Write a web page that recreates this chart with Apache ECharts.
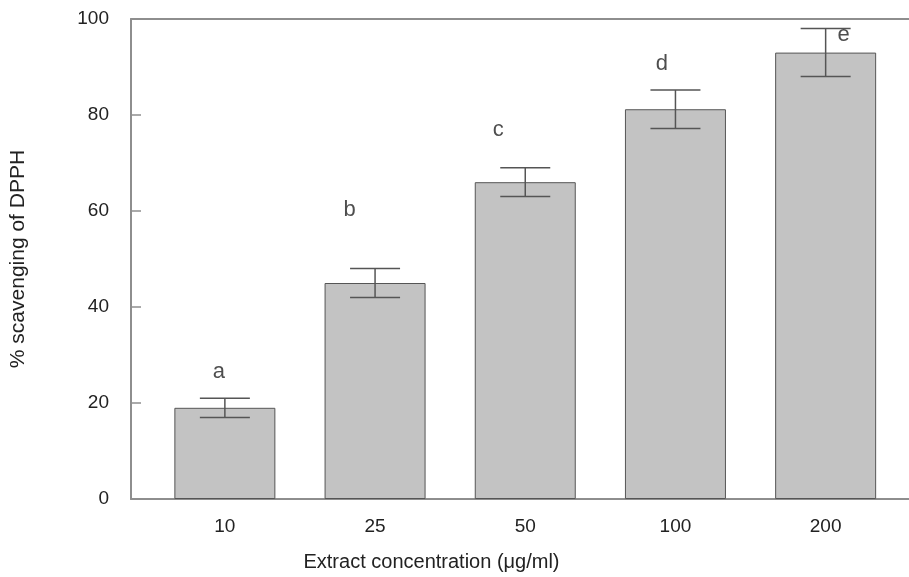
<!DOCTYPE html>
<html>
<head>
<meta charset="utf-8">
<script src="https://cdn.jsdelivr.net/npm/echarts@6/dist/echarts.min.js"></script>
<style>html,body{margin:0;padding:0;background:#fff}#c{width:909px;height:577px}</style>
</head>
<body>
<div id="c"></div>
<script>
var categories = ['10', '25', '50', '100', '200'];
var means = [19, 45, 66, 81.2, 93];
var errors = [2, 3, 3, 4, 5];
var letters = ['a', 'b', 'c', 'd', 'e'];
// annotation anchor positions in data units (category index, % value)
var letterX = [-0.04, 0.83, 1.82, 2.91, 4.12];
var letterY = [26.5, 60.2, 76.9, 90.6, 96.7];
var yTicks = [0, 20, 40, 60, 80, 100];

var barData = means.map(function (v, i) { return [i, v]; });
var errData = means.map(function (v, i) { return [i, v - errors[i], v + errors[i]]; });
var letterData = letters.map(function (t, i) { return { value: [letterX[i], letterY[i]], name: t }; });

var font = '"Liberation Sans", Arial, sans-serif';
var axisColor = '#8e8e8e';
var chart = echarts.init(document.getElementById('c'));
chart.setOption({
  animation: false,
  backgroundColor: '#fff',
  grid: { left: 130, right: 0, top: 19, bottom: 78 },
  xAxis: [{
    type: 'value', min: -0.625, max: 4.555, position: 'bottom',
    splitLine: { show: false },
    axisLine: { show: true, onZero: false, lineStyle: { color: axisColor, width: 2 } },
    axisTick: { show: false },
    axisLabel: {
      customValues: [0, 1, 2, 3, 4],
      formatter: function (v) { return categories[Math.round(v)]; },
      margin: 18, color: '#222', fontSize: 19, fontFamily: font
    },
    name: 'Extract concentration (μg/ml)', nameLocation: 'middle', nameGap: 53,
    nameTextStyle: { color: '#222', fontSize: 20, fontFamily: font, padding: [0, 177, 0, 0] }
  }, {
    type: 'value', min: -0.625, max: 4.555, position: 'top',
    splitLine: { show: false },
    axisLine: { show: true, onZero: false, lineStyle: { color: axisColor, width: 2 } },
    axisTick: { show: false }, axisLabel: { show: false }
  }],
  yAxis: {
    type: 'value', min: yTicks[0], max: yTicks[yTicks.length - 1], interval: 20,
    splitLine: { show: false },
    axisLine: { show: true, onZero: false, lineStyle: { color: axisColor, width: 2 } },
    axisTick: { show: true, inside: true, length: 10, lineStyle: { color: axisColor, width: 1.5 } },
    axisLabel: { margin: 22, color: '#222', fontSize: 19, fontFamily: font },
    name: '% scavenging of DPPH', nameLocation: 'middle', nameGap: 102,
    nameTextStyle: { color: '#222', fontSize: 21, fontFamily: font }
  },
  series: [{
    type: 'bar', xAxisIndex: 0, data: barData, barWidth: 101,
    itemStyle: { color: '#c3c3c3', borderColor: '#555', borderWidth: 1 }
  }, {
    type: 'custom', xAxisIndex: 0, data: errData, z: 5,
    renderItem: function (params, api) {
      var x = api.value(0);
      var lo = api.coord([x, api.value(1)]);
      var hi = api.coord([x, api.value(2)]);
      var hw = 25;
      var st = { stroke: '#555', lineWidth: 1.5 };
      return {
        type: 'group', children: [
          { type: 'line', shape: { x1: hi[0], y1: hi[1], x2: lo[0], y2: lo[1] }, style: st },
          { type: 'line', shape: { x1: hi[0] - hw, y1: hi[1], x2: hi[0] + hw, y2: hi[1] }, style: st },
          { type: 'line', shape: { x1: lo[0] - hw, y1: lo[1], x2: lo[0] + hw, y2: lo[1] }, style: st }
        ]
      };
    }
  }, {
    type: 'scatter', xAxisIndex: 0, data: letterData, symbolSize: 0, z: 6,
    label: {
      show: true, position: 'inside', formatter: '{b}',
      color: '#222', fontSize: 22, fontFamily: font
    }
  }]
});
</script>
</body>
</html>
